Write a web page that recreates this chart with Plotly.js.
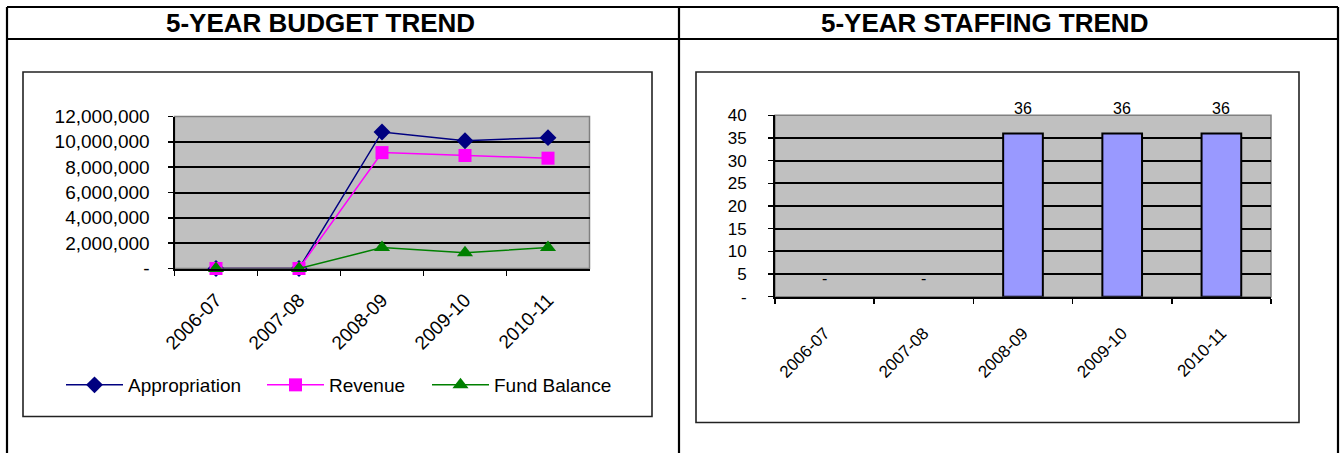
<!DOCTYPE html>
<html>
<head>
<meta charset="utf-8">
<script src="https://cdn.plot.ly/plotly-3.0.1.min.js"></script>
<style>
  html, body { margin: 0; padding: 0; background: #ffffff; }
  #chart { width: 1340px; height: 453px; }
</style>
</head>
<body>
<div id="chart"></div>
<script>
// ---- data ----
const years = ["2006-07", "2007-08", "2008-09", "2009-10", "2010-11"];
const appropriation = [0, 0, 10780000, 10090000, 10330000];
const revenue = [0, 0, 9150000, 8920000, 8710000];
const fundBalance = [0, 0, 1650000, 1250000, 1650000];
const staffing = [0, 0, 36, 36, 36];

const budgetTickVals = [0, 2000000, 4000000, 6000000, 8000000, 10000000, 12000000];
const budgetTickText = ["-", "2,000,000", "4,000,000", "6,000,000", "8,000,000", "10,000,000", "12,000,000"];
const staffTickVals = [0, 5, 10, 15, 20, 25, 30, 35, 40];
const staffTickText = ["-", "5", "10", "15", "20", "25", "30", "35", "40"];

const budgetTitle = "5-YEAR BUDGET TREND";
const staffTitle = "5-YEAR STAFFING TREND";

// ---- helpers (pixel -> paper) ----
const W = 1340, H = 453;
const px = v => v / W;
const py = v => 1 - v / H;
const FONT = '"Liberation Sans", Arial, sans-serif';

const traces = [
  {
    x: years, y: appropriation, name: "Appropriation", type: "scatter", mode: "lines+markers",
    xaxis: "x", yaxis: "y", legend: "legend", cliponaxis: false,
    line: { color: "#000080", width: 1.5 },
    marker: { symbol: "diamond", size: 13, color: "#000080" }
  },
  {
    x: years, y: revenue, name: "Revenue", type: "scatter", mode: "lines+markers",
    xaxis: "x", yaxis: "y", legend: "legend2", cliponaxis: false,
    line: { color: "#FF00FF", width: 1.5 },
    marker: { symbol: "square", size: 13, color: "#FF00FF" }
  },
  {
    x: years, y: fundBalance, name: "Fund Balance", type: "scatter", mode: "lines+markers",
    xaxis: "x", yaxis: "y", legend: "legend3", cliponaxis: false,
    line: { color: "#008000", width: 1.5 },
    marker: { symbol: "triangle-up", size: 14, color: "#008000" }
  },
  {
    x: years, y: staffing, name: "Staffing", type: "bar",
    xaxis: "x2", yaxis: "y2", showlegend: false, width: 0.4,
    marker: { color: "#9999FF", line: { color: "#000000", width: staffing.map(v => v === 0 ? 0 : 2) } }
  }
];

const shapes = [
  // outer table
  { type: "line", xref: "paper", yref: "paper", x0: px(7), x1: px(7), y0: py(7), y1: py(460), line: { color: "#000", width: 2.2 } },
  { type: "line", xref: "paper", yref: "paper", x0: px(1338), x1: px(1338), y0: py(7), y1: py(460), line: { color: "#000", width: 2.2 } },
  { type: "line", xref: "paper", yref: "paper", x0: px(7), x1: px(1338), y0: py(7), y1: py(7), line: { color: "#000", width: 2.2 } },
  { type: "line", xref: "paper", yref: "paper", x0: px(7), x1: px(1338), y0: py(39), y1: py(39), line: { color: "#000", width: 2.2 } },
  { type: "line", xref: "paper", yref: "paper", x0: px(679), x1: px(679), y0: py(7), y1: py(460), line: { color: "#000", width: 2.2 } },
  // chart boxes
  { type: "rect", xref: "paper", yref: "paper", x0: px(23), x1: px(652), y0: py(72), y1: py(416.5), line: { color: "#222", width: 1.6 } },
  { type: "rect", xref: "paper", yref: "paper", x0: px(696), x1: px(1299), y0: py(72), y1: py(422.5), line: { color: "#222", width: 1.6 } },
  // plot-area borders (gray top/right)
  { type: "rect", xref: "x domain", yref: "y domain", x0: 0, x1: 1, y0: 0, y1: 1, line: { color: "#808080", width: 1.5 }, layer: "below" },
  { type: "rect", xref: "x2 domain", yref: "y2 domain", x0: 0, x1: 1, y0: 0, y1: 1, line: { color: "#808080", width: 1.5 }, layer: "below" }
];

const annotations = [
  { xref: "paper", yref: "paper", x: px(320), y: py(23), text: "<b>" + budgetTitle + "</b>", showarrow: false,
    xanchor: "center", yanchor: "middle", font: { family: FONT, size: 26, color: "#000" } },
  { xref: "paper", yref: "paper", x: px(985), y: py(23), text: "<b>" + staffTitle + "</b>", showarrow: false,
    xanchor: "center", yanchor: "middle", font: { family: FONT, size: 26, color: "#000" } }
];
years.forEach((yr, i) => {
  annotations.push({
    xref: "x2", yref: "y2", x: yr, y: staffing[i], yshift: staffing[i] === 0 ? 18 : 25,
    text: staffing[i] === 0 ? "-" : String(staffing[i]),
    showarrow: false, xanchor: "center", yanchor: "middle",
    font: { family: FONT, size: 16, color: "#000" }
  });
});

const legendBase = {
  orientation: "h", xanchor: "left", y: py(385), yanchor: "middle",
  font: { family: FONT, size: 19, color: "#000" }, bgcolor: "rgba(0,0,0,0)",
  itemwidth: 57
};

const layout = {
  width: W, height: H,
  margin: { l: 0, r: 0, t: 0, b: 0 },
  paper_bgcolor: "#ffffff",
  plot_bgcolor: "#C0C0C0",
  font: { family: FONT, color: "#000" },
  showlegend: true,
  legend: Object.assign({}, legendBase, { x: px(61) }),
  legend2: Object.assign({}, legendBase, { x: px(262) }),
  legend3: Object.assign({}, legendBase, { x: px(427) }),
  xaxis: {
    domain: [px(174.5), px(589.5)], anchor: "y", type: "category",
    showgrid: false, showline: true, linecolor: "#000", linewidth: 2,
    ticks: "outside", ticklen: 5, tickwidth: 1.5, tickcolor: "#000", tickson: "boundaries",
    tickangle: -45, tickfont: { family: FONT, size: 19, color: "#000" },
    ticklabelstandoff: 11,
    range: [-0.5, 4.5], fixedrange: true, zeroline: false
  },
  yaxis: {
    domain: [py(268.5), py(116.5)], anchor: "x",
    range: [0, 12000000], tickvals: budgetTickVals, ticktext: budgetTickText,
    showgrid: true, gridcolor: "#000", gridwidth: 2,
    showline: true, linecolor: "#000", linewidth: 2,
    ticks: "outside", ticklen: 5, tickwidth: 1.5, tickcolor: "#000",
    ticklabelstandoff: 14,
    tickfont: { family: FONT, size: 19, color: "#000" }, zeroline: false, fixedrange: true
  },
  xaxis2: {
    domain: [px(775), px(1271)], anchor: "y2", type: "category",
    showgrid: false, showline: true, linecolor: "#000", linewidth: 2,
    ticks: "outside", ticklen: 5, tickwidth: 1.5, tickcolor: "#000", tickson: "boundaries",
    tickangle: -45, tickfont: { family: FONT, size: 17, color: "#000" },
    ticklabelstandoff: 18,
    range: [-0.5, 4.5], fixedrange: true, zeroline: false
  },
  yaxis2: {
    domain: [py(296.7), py(115.3)], anchor: "x2",
    range: [0, 40], tickvals: staffTickVals, ticktext: staffTickText,
    showgrid: true, gridcolor: "#000", gridwidth: 2,
    showline: true, linecolor: "#000", linewidth: 2,
    ticks: "outside", ticklen: 5, tickwidth: 1.5, tickcolor: "#000",
    ticklabelstandoff: 18,
    tickfont: { family: FONT, size: 17, color: "#000" }, zeroline: false, fixedrange: true
  },
  shapes: shapes,
  annotations: annotations
};

Plotly.newPlot("chart", traces, layout, { displayModeBar: false, staticPlot: true });
</script>
</body>
</html>
